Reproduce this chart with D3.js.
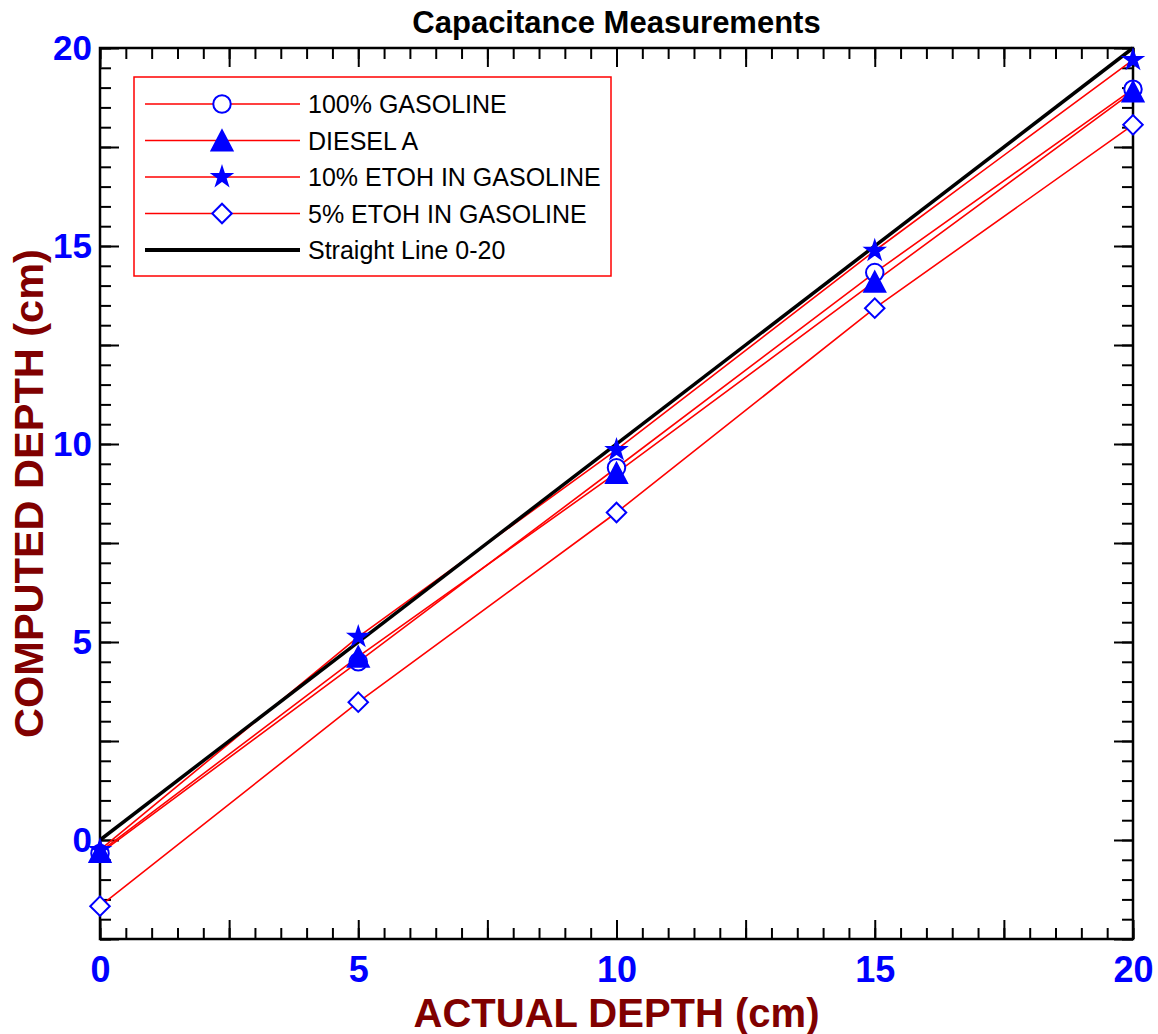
<!DOCTYPE html>
<html>
<head>
<meta charset="utf-8">
<script src="https://cdn.jsdelivr.net/npm/d3@7"></script>
<style>
body { margin: 0; background: #fff; }
svg { display: block; font-family: Arial, "Liberation Sans", sans-serif; }
</style>
</head>
<body>
<svg id="chart" width="1158" height="1034"></svg>
<script>
// values
var depths = [0, 5, 10, 15, 20];
var gasoline100 = [-0.34, 4.50, 9.40, 14.33, 18.96];
var dieselA = [-0.30, 4.63, 9.27, 14.10, 18.90];
var etoh10 = [-0.25, 5.13, 9.85, 14.88, 19.70];
var etoh5 = [-1.67, 3.48, 8.27, 13.43, 18.06];
var straightX = [0, 20];
var straightY = [0, 20];
var xLabels = [0, 5, 10, 15, 20];
var yLabels = [0, 5, 10, 15, 20];
var seriesNames = ["100% GASOLINE", "DIESEL A", "10% ETOH IN GASOLINE", "5% ETOH IN GASOLINE", "Straight Line 0-20"];

var width = 1158, height = 1034;
var margin = ({top: 48, right: 25, bottom: 95, left: 100});

var x = d3.scaleLinear().domain([0, 20]).range([margin.left, width - margin.right]);
var y = d3.scaleLinear().domain([-2.5, 20]).range([height - margin.bottom, margin.top]);

var svg = d3.select('#chart');
var blue = "#0000ff", red = "#ff0000", darkRed = "#800000";
var font = "Arial, 'Liberation Sans', sans-serif";

// marker shapes
function triPath(w, h) {
  var p = d3.path();
  p.moveTo(0, -h / 2); p.lineTo(w / 2, h / 2); p.lineTo(-w / 2, h / 2); p.closePath();
  return p.toString();
}
var markers = {
  circle: {d: d3.symbol(d3.symbolCircle, 240)(), fill: "#fff", rot: 0},
  triangle: {d: triPath(21, 20), fill: blue, rot: 0},
  star: {d: d3.symbol(d3.symbolStar, 105)(), fill: blue, rot: 0},
  diamond: {d: d3.symbol(d3.symbolSquare, 190)(), fill: "#fff", rot: 45}
};

var series = [
  {name: seriesNames[0], values: gasoline100, mark: "circle"},
  {name: seriesNames[1], values: dieselA, mark: "triangle"},
  {name: seriesNames[2], values: etoh10, mark: "star"},
  {name: seriesNames[3], values: etoh5, mark: "diamond"}
];

// ticks (inward, minor every 0.5, long every 2.5)
var minorT = d3.range(0, 20.01, 0.5);
var majorT = d3.range(0, 20.01, 2.5);
var minorY = d3.range(-2.5, 20.01, 0.5);
var majorY = d3.range(-2.5, 20.01, 2.5);

function tickAxis(axisFn, scale, vals, size, tr) {
  var g = svg.append("g").attr("transform", tr)
    .call(axisFn(scale).tickValues(vals).tickSize(size).tickFormat(""));
  g.select(".domain").remove();
  g.selectAll("line").attr("stroke", "#000").attr("stroke-width", 2);
}
var bottomY = y(-2.5), topY = y(20), leftX = x(0), rightX = x(20);
tickAxis(d3.axisBottom, x, minorT, -11, "translate(0," + bottomY + ")");
tickAxis(d3.axisBottom, x, majorT, -19, "translate(0," + bottomY + ")");
tickAxis(d3.axisTop, x, minorT, -11, "translate(0," + topY + ")");
tickAxis(d3.axisTop, x, majorT, -19, "translate(0," + topY + ")");
tickAxis(d3.axisLeft, y, minorY, -11, "translate(" + leftX + ",0)");
tickAxis(d3.axisLeft, y, majorY, -19, "translate(" + leftX + ",0)");
tickAxis(d3.axisRight, y, minorY, -11, "translate(" + rightX + ",0)");
tickAxis(d3.axisRight, y, majorY, -19, "translate(" + rightX + ",0)");

// frame
svg.append("rect").attr("x", leftX).attr("y", topY)
  .attr("width", rightX - leftX).attr("height", bottomY - topY)
  .attr("fill", "none").attr("stroke", "#000").attr("stroke-width", 2.5);

// tick labels
var xl = svg.append("g").attr("transform", "translate(0," + bottomY + ")")
  .call(d3.axisBottom(x).tickValues(xLabels).tickSize(0).tickPadding(17));
xl.select(".domain").remove();
xl.selectAll("text").attr("font-size", 36).attr("font-weight", "bold")
  .attr("fill", blue).attr("font-family", font);

var yl = svg.append("g").attr("transform", "translate(" + leftX + ",0)")
  .call(d3.axisLeft(y).tickValues(yLabels).tickSize(0).tickPadding(8));
yl.select(".domain").remove();
yl.selectAll("text").attr("font-size", 35).attr("font-weight", "bold")
  .attr("fill", blue).attr("font-family", font);

// series lines
var line = d3.line().x(d => x(d[0])).y(d => y(d[1]));
var plot = svg.append("g");
series.forEach(function(s) {
  plot.append("path").datum(d3.zip(depths, s.values)).attr("d", line)
    .attr("fill", "none").attr("stroke", red).attr("stroke-width", 1.6);
});
plot.append("path").datum(d3.zip(straightX, straightY)).attr("d", line)
  .attr("fill", "none").attr("stroke", "#000").attr("stroke-width", 3.5);

// markers (star under triangle)
[0, 2, 1, 3].forEach(function(i) {
  var s = series[i], m = markers[s.mark];
  plot.selectAll(null).data(d3.zip(depths, s.values)).join("path")
    .attr("d", m.d)
    .attr("transform", d => "translate(" + x(d[0]) + "," + y(d[1]) + ") rotate(" + m.rot + ")")
    .attr("fill", m.fill).attr("stroke", blue).attr("stroke-width", 2);
});

// legend
var lg = svg.append("g");
lg.append("rect").attr("x", 134).attr("y", 77).attr("width", 477).attr("height", 199)
  .attr("fill", "#fff").attr("stroke", red).attr("stroke-width", 1.5);
var rowY = d3.scalePoint().domain(seriesNames).range([104, 250]);
seriesNames.forEach(function(name, i) {
  var ry = rowY(name);
  lg.append("line").attr("x1", 145).attr("x2", 300).attr("y1", ry).attr("y2", ry)
    .attr("stroke", i < 4 ? red : "#000").attr("stroke-width", i < 4 ? 1.6 : 4);
  if (i < 4) {
    var m = markers[series[i].mark];
    lg.append("path").attr("d", m.d)
      .attr("transform", "translate(222," + ry + ") rotate(" + m.rot + ")")
      .attr("fill", m.fill).attr("stroke", blue).attr("stroke-width", 2);
  }
  lg.append("text").attr("x", 308).attr("y", ry + 9).attr("font-size", 25)
    .attr("fill", "#000").text(name);
});

// titles
svg.append("text").attr("x", (leftX + rightX) / 2).attr("y", 33)
  .attr("text-anchor", "middle").attr("font-size", 31).attr("font-weight", "bold")
  .text("Capacitance Measurements");
svg.append("text").attr("x", (leftX + rightX) / 2).attr("y", 1027)
  .attr("text-anchor", "middle").attr("font-size", 40).attr("font-weight", "bold")
  .attr("fill", darkRed).text("ACTUAL DEPTH (cm)");
svg.append("text").attr("transform", "translate(43," + ((topY + bottomY) / 2) + ") rotate(-90)")
  .attr("text-anchor", "middle").attr("font-size", 41.5).attr("font-weight", "bold")
  .attr("fill", darkRed).text("COMPUTED DEPTH (cm)");
</script>
</body>
</html>
